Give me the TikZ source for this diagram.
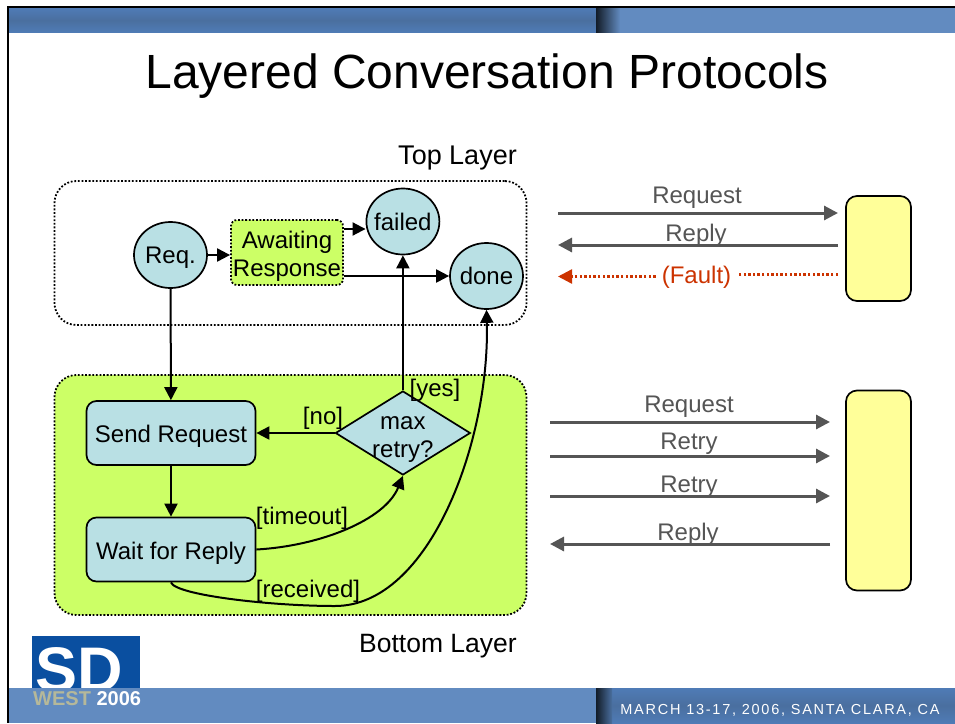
\documentclass[tikz,border=0pt]{standalone}
\usepackage{fontspec}
\setmainfont{Liberation Sans}
\usetikzlibrary{arrows.meta,shapes.geometric}
\definecolor{barblue}{HTML}{628BC0}
\definecolor{bardark}{HTML}{4A6F9F}
\definecolor{baredge}{HTML}{4F7BB6}
\definecolor{logoblue}{HTML}{0A4FA0}
\definecolor{statefill}{HTML}{B9E0E4}
\definecolor{layergreen}{HTML}{CCFF66}
\definecolor{partfill}{HTML}{FFFF99}
\definecolor{msggray}{HTML}{555555}
\definecolor{faultred}{HTML}{CC3300}
\definecolor{westgray}{HTML}{B5B89A}
\tikzset{
    state/.style={ellipse,draw,line width=1.7pt,fill=statefill,font=\fontsize{24}{28}\selectfont,inner sep=-8pt,minimum width=73pt,minimum height=66pt,text height=17pt,text depth=0pt},
    activity/.style={rectangle,rounded corners=10pt,draw,line width=1.7pt,fill=statefill,font=\fontsize{24}{28}\selectfont,inner sep=0pt,minimum width=169pt,minimum height=64pt,text height=19pt,text depth=0pt},
    layer/.style={rectangle,rounded corners=22pt,draw,line width=1.8pt,dash pattern=on 1.8pt off 1.8pt,inner sep=0pt,minimum width=472pt},
    part/.style={rectangle,rounded corners=11pt,draw,line width=1.7pt,fill=partfill,inner sep=0pt,minimum width=65pt},
    flow/.style={-{Triangle[length=13pt,width=13pt]},line width=2pt},
    msg/.style={-{Triangle[length=14pt,width=14pt]},line width=3pt,msggray},
    txt/.style={font=\fontsize{24}{28}\selectfont,inner sep=0pt}
}
\begin{document}
\begin{tikzpicture}[x=1pt,y=-1pt]
    \useasboundingbox (0,0) rectangle (955,723);
    \fill[white] (0,0) rectangle (955,723);

    % logo
    \fill[logoblue] (32,636) rectangle (140,688);
    \node[font=\fontsize{63}{63}\selectfont\bfseries,white,inner sep=0pt,anchor=base] (logo) at (79,691) {SD};

    % bars
    \fill[barblue] (9,8) rectangle (955,33);
    \shade[top color=baredge,bottom color=baredge,middle color=bardark] (9,8) rectangle (596,32.5);
    \shade[left color=bardark!25!black,right color=barblue] (596,8) rectangle (620,32.5);
    \fill[barblue] (9,688) rectangle (955,723);
    \shade[top color=baredge,bottom color=baredge,middle color=bardark] (596,688) rectangle (955,723);
    \shade[left color=bardark!25!black,right color=bardark] (596,688) rectangle (612,723);
    \draw[line width=2.4pt] (955,7) -- (8,7) -- (8,723);

    % title
    \node[font=\fontsize{48}{50}\selectfont,inner sep=0pt] (title) at (487,76) {Layered Conversation Protocols};

    % footer
    \node[font=\fontsize{20}{20}\selectfont\bfseries,inner sep=0pt,anchor=west] (west) at (33,699) {\textcolor{westgray}{WEST} \textcolor{white}{2006}};
    \node[font=\fontsize{14.5}{15}\selectfont,white,inner sep=0pt] (date) at (780,710) {\addfontfeature{LetterSpace=12}MARCH 13-17, 2006, SANTA CLARA, CA};

    % layers
    \node[layer,minimum height=144pt] (top) at (290.5,253) {};
    \node[layer,fill=layergreen,minimum height=240pt] (bottom) at (290.5,495) {};
    \node[txt,font=\fontsize{27}{28}\selectfont,anchor=east] (toplabel) at (517,158) {Top Layer};
    \node[txt,font=\fontsize{26.5}{28}\selectfont,anchor=east] (bottomlabel) at (517,646) {Bottom Layer};

    % top layer states
    \node[state] (req) at (170.5,255) {Req.};
    \node[rectangle,rounded corners=6pt,draw,line width=1.8pt,dash pattern=on 1.8pt off 1.8pt,fill=layergreen,inner sep=0pt,minimum width=112pt,minimum height=65pt,label={[txt,align=center,yshift=-4pt]center:{Awaiting\\Response}}] (await) at (287,252.5) {};
    \node[state] (failed) at (402.9,221.5) {failed};
    \node[state] (done) at (486.5,276) {done};

    % bottom layer states
    \node[activity] (send) at (171,433) {Send Request};
    \node[activity] (wait) at (171,549.5) {Wait for Reply};
    \node[diamond,aspect=1.6,draw,line width=1.7pt,fill=statefill,inner sep=0pt,minimum width=135pt,minimum height=84pt,label={[txt,align=center,yshift=-7pt]center:{max\\retry?}}] (retry) at (402.9,433) {};

    % connectors
    \draw[flow] (req) -- (await.west |- req);
    \draw[flow] (await.east |- 0,229) -- (failed.west |- 0,229);
    \draw[flow] (await.east |- done) -- (done);
    \draw[flow] (req) -- (send);
    \draw[flow] (send) -- (wait);
    \draw[flow] (retry) -- (send);
    \draw[flow] (retry) -- (failed);
    \draw[flow] (wait.east) .. controls (320,546) and (385,520) .. (retry.south);
    \draw[flow] (wait.south) .. controls (175,595) and (270,606) .. (335,606) .. controls (430,606) and (490,440) .. (done.south);

    % guards
    \node[txt] (no) at (323,418) {[no]};
    \node[txt] (yes) at (435,390) {[yes]};
    \node[txt] (timeout) at (302,518) {[timeout]};
    \node[txt] (received) at (308,591) {[received]};

    % top messages
    \node[part,minimum height=105pt] (parttop) at (878.5,248.5) {};
    \coordinate (a1) at (558,213);
    \coordinate (a2) at (838,213);
    \coordinate (b1) at (838,245);
    \coordinate (b2) at (558,245);
    \coordinate (c1) at (838,274.5);
    \coordinate (c2) at (558,276.5);
    \draw[msg] (a1) -- (a2);
    \draw[msg] (b1) -- (b2);
    \node[txt,msggray] (req1) at (697,198) {Request};
    \node[txt,msggray] (rep1) at (696,235) {Reply};
    \node[txt,faultred,inner xsep=6pt] (fault) at (696.5,277) {(Fault)};
    \draw[line width=2.4pt,dash pattern=on 2.4pt off 2.2pt,faultred] (c1) -- (fault.east |- c1);
    \draw[-{Triangle[length=14pt,width=14pt]},line width=2.4pt,dash pattern=on 2.4pt off 2.2pt,faultred] (fault.west |- c2) -- (c2);

    % bottom messages
    \node[part,minimum height=200pt] (partbot) at (878.5,490.5) {};
    \coordinate (d1) at (550,422);
    \coordinate (d2) at (830,422);
    \coordinate (e1) at (550,456);
    \coordinate (e2) at (830,456);
    \coordinate (f1) at (550,496);
    \coordinate (f2) at (830,496);
    \coordinate (g1) at (830,544);
    \coordinate (g2) at (550,544);
    \foreach \s/\t in {d1/d2,e1/e2,f1/f2,g1/g2} \draw[msg] (\s) -- (\t);
    \node[txt,msggray] (req2) at (689,407) {Request};
    \node[txt,msggray] (ret1) at (689,444) {Retry};
    \node[txt,msggray] (ret2) at (689,487) {Retry};
    \node[txt,msggray] (rep2) at (688,534) {Reply};
\end{tikzpicture}
\end{document}
